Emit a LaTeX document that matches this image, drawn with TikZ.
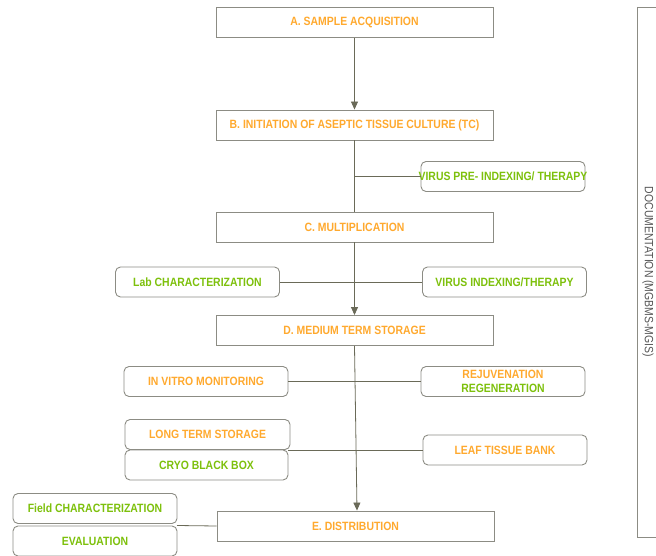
\documentclass[tikz,border=0pt]{standalone}
\usepackage{fontspec}
\setmainfont{Liberation Sans}[FakeStretch=0.87]
\usetikzlibrary{arrows.meta}
\definecolor{orng}{HTML}{FFA92E}
\definecolor{grn}{HTML}{7DC00C}
\definecolor{bord}{HTML}{8C8C84}
\definecolor{conn}{HTML}{6A6A58}
\definecolor{doctext}{HTML}{555555}
\tikzset{
  mainbox/.style={draw=bord,line width=0.9pt,minimum width=277pt,minimum height=30pt,inner sep=0pt,text=orng,font=\fontsize{12}{14}\selectfont\bfseries},
  sidebox/.style={draw=bord,line width=0.9pt,rounded corners=5pt,minimum width=164pt,minimum height=30pt,inner sep=0pt,font=\fontsize{12}{14}\selectfont\bfseries,align=center},
  link/.style={draw=conn,line width=0.8pt},
  arr/.style={draw=conn,line width=0.8pt,-{Triangle[length=8pt,width=7pt]}},
}
\begin{document}
\begin{tikzpicture}[x=1pt,y=-1pt]
\useasboundingbox (0,0) rectangle (656,556);
\node[mainbox] (A) at (354.5,22.5) {A. SAMPLE ACQUISITION};
\node[mainbox] (B) at (354.5,125) {B. INITIATION OF ASEPTIC TISSUE CULTURE (TC)};
\node[mainbox] (C) at (354.5,227) {C. MULTIPLICATION};
\node[mainbox] (D) at (354.5,330.5) {D. MEDIUM TERM STORAGE};
\node[mainbox] (E) at (355.5,526) {E. DISTRIBUTION};

\node[sidebox,text=grn] (vp) at (503,176.5) {\makebox[150pt][c]{VIRUS PRE- INDEXING/ THERAPY}};
\node[sidebox,text=grn] (lab) at (197.5,282) {Lab CHARACTERIZATION};
\node[sidebox,text=grn] (vi) at (504.5,282) {VIRUS INDEXING/THERAPY};
\node[sidebox,text=orng] (iv) at (206,381.5) {IN VITRO MONITORING};
\node[sidebox] (rj) at (503,381.5) {\textcolor{orng}{REJUVENATION}\\[0pt]\textcolor{grn}{REGENERATION}};
\node[sidebox,text=orng,minimum width=165pt] (lts) at (207.5,434.5) {LONG TERM STORAGE};
\node[sidebox,text=grn,minimum width=163pt] (cryo) at (206.5,465) {CRYO BLACK BOX};
\node[sidebox,text=orng] (leaf) at (505,450) {LEAF TISSUE BANK};
\node[sidebox,text=grn] (fc) at (95,508.5) {Field CHARACTERIZATION};
\node[sidebox,text=grn] (ev) at (95,541) {EVALUATION};

\draw[draw=bord,line width=0.9pt] (637,7) -- (656,7) (637,7) -- (637,537) -- (656,537);
\node[rotate=-90,text=doctext,font=\fontsize{12}{14}\selectfont] (doc) at (648,272) {DOCUMENTATION (MGBMS-MGIS)};

\draw[arr] (A) -- (B);
\draw[arr] (C) -- (D);
\draw[arr] (D.south) -- (E.north -| 357,0);
\coordinate (j1) at (354.5,176.5);
\draw[link] (B) -- (C);
\draw[link] (j1) -- (vp);
\draw[link] (lab) -- (vi);
\draw[link] (iv) -- (rj);
\coordinate (j2) at (288,450);
\draw[link] (j2) -- (leaf);
\coordinate (j3) at (177,525.5);
\draw[link] (j3) -- (E.west);
\end{tikzpicture}
\end{document}
